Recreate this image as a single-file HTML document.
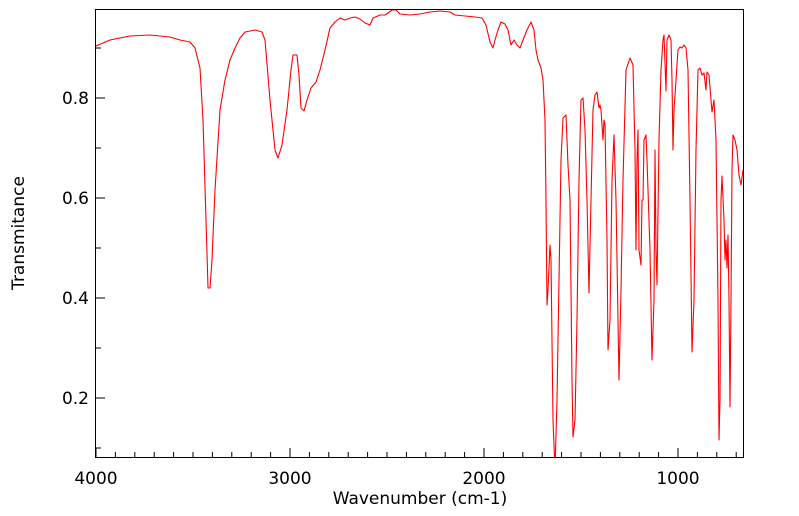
<!DOCTYPE html>
<html><head><meta charset="utf-8"><style>body{margin:0;background:#fff}svg{display:block}text{font-family:"DejaVu Sans","Liberation Sans",sans-serif;fill:#000}</style></head><body>
<svg width="799" height="516" viewBox="0 0 799 516">
<rect x="95.5" y="9.5" width="648" height="448" fill="none" stroke="#000" stroke-width="1"/>
<g stroke="#000" stroke-width="1">
<path d="M96 457v-9M290 457v-9M484 457v-9M678 457v-9"/>
<path d="M115.4 457v-5M134.8 457v-5M154.2 457v-5M173.6 457v-5M193 457v-5M212.4 457v-5M231.8 457v-5M251.2 457v-5M270.6 457v-5M309.4 457v-5M328.8 457v-5M348.2 457v-5M367.6 457v-5M387 457v-5M406.4 457v-5M425.8 457v-5M445.2 457v-5M464.6 457v-5M503.4 457v-5M522.8 457v-5M542.2 457v-5M561.6 457v-5M581 457v-5M600.4 457v-5M619.8 457v-5M639.2 457v-5M658.6 457v-5M697.4 457v-5M716.8 457v-5M736.2 457v-5"/>
<path d="M96 98h9M96 198h9M96 298h9M96 398h9"/>
<path d="M96 48h5M96 148h5M96 248h5M96 348h5M96 448h5"/>
</g>
<g font-size="17" text-anchor="end">
<text x="89" y="104">0.8</text><text x="89" y="204">0.6</text><text x="89" y="304">0.4</text><text x="89" y="404">0.2</text>
</g>
<g font-size="17" text-anchor="middle">
<text x="96" y="484">4000</text><text x="290" y="484">3000</text><text x="484" y="484">2000</text><text x="678" y="484">1000</text>
<text x="420" y="504">Wavenumber (cm-1)</text>
<text transform="translate(24,233) rotate(-90)">Transmitance</text>
</g>
<svg x="96" y="10" width="647" height="447" viewBox="96 10 647 447" overflow="hidden">
<polyline fill="none" stroke="#f00" stroke-width="1.1" stroke-linejoin="round" points="96,46 110,40 130,36 150,35 170,37 180,40 190,42 195,48 198,60 200,68 203,120 206,220 208,288 210,288 212,260 215,190 220,110 225,80 230,60 235,48 240,38 245,32 255,30 262,32 265,40 270,100 275,150 278,158 282,145 287,110 291,70 293,55 297,55 299,75 301,108 304,111 307,100 311,88 316,82 320,70 325,50 330,28 335,22 340,18 345,20 350,18 355,17 360,19 365,23 370,25 373,18 380,15 385,15 388,13 392,10 396,10 400,14 410,15 420,14 430,12 440,11 450,12 455,15 465,16 475,17 482,18 486,25 490,42 493,48 495,40 498,30 501,22 505,24 508,30 511,45 514,40 517,45 520,48 523,40 527,30 531,22 534,30 536,50 538,60 541,68 543,80 545,120 546,200 547,305 548,290 550,245 551,260 552,340 553,420 555,470 557,400 559,280 561,160 563,118 566,115 568,165 570,200 572,380 573,437 575,420 577,320 579,180 581,100 583,98 585,130 587,200 589,293 591,200 593,110 595,95 597,92 599,108 600,105 601,110 603,140 604,120 605,125 607,240 608,350 610,320 612,180 614,135 616,200 619,380 621,290 623,180 626,70 630,58 633,65 635,150 636,250 637,160 638,130 639,250 641,265 642,200 643,200 644,140 646,135 647,160 650,250 652,360 654,300 655,150 656,250 657,285 659,140 661,70 663,40 664,35 666,91 667,40 669,35 671,40 672,80 673,150 674,110 676,80 678,50 680,47 682,48 684,45 686,48 688,70 690,200 692,352 694,300 696,150 698,70 700,68 702,75 704,73 706,90 707,72 709,75 711,100 712,112 714,100 716,140 718,300 719,440 720,400 721,200 722,176 724,220 725,260 726,240 727,268 728,235 729,300 730,407 731,300 732,170 733,135 735,140 737,150 739,175 741,185 743,170"/>
</svg>
</svg>
</body></html>
